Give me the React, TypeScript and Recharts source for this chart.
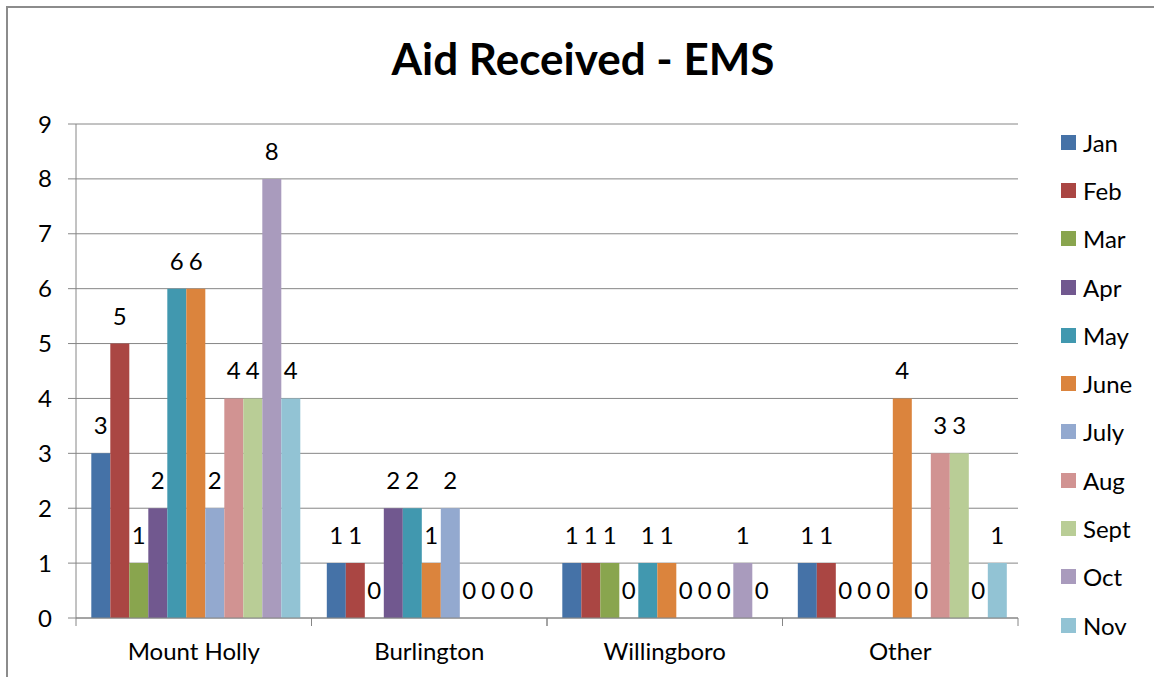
import React from "react";
import { Bar, BarChart, CartesianGrid, LabelList, Legend, XAxis, YAxis } from "recharts";

const towns = ["Mount Holly", "Burlington", "Willingboro", "Other"];
const months = ["Jan", "Feb", "Mar", "Apr", "May", "June", "July", "Aug", "Sept", "Oct", "Nov"];
const monthColors = [
  "#4572A7", "#AA4643", "#89A54E", "#71588F", "#4198AF", "#DB843D",
  "#93A9CF", "#D19392", "#B9CD96", "#A99BBD", "#92C3D4"
];

// one array per town, values Jan..Nov
const mountHolly = [3, 5, 1, 2, 6, 6, 2, 4, 4, 8, 4];
const burlington = [1, 1, 0, 2, 2, 1, 2, 0, 0, 0, 0];
const willingboro = [1, 1, 1, 0, 1, 1, 0, 0, 0, 1, 0];
const other = [1, 1, 0, 0, 0, 4, 0, 3, 3, 0, 1];
const yTicks = [0, 1, 2, 3, 4, 5, 6, 7, 8, 9];

const townValues = [mountHolly, burlington, willingboro, other];
const data = towns.map((town, i) => {
  const row: Record<string, string | number> = { town };
  months.forEach((m, j) => {
    row[m] = townValues[i][j];
  });
  return row;
});

const FONT = "Lato, 'Open Sans', sans-serif";
const GRID = "#868686";

function TownTick(props: any) {
  const { x, y, payload } = props;
  const half = payload.offset ?? 117.75;
  return (
    <g>
      <line x1={x - half} x2={x - half} y1={y - 8} y2={y} stroke={GRID} />
      <line x1={x + half} x2={x + half} y1={y - 8} y2={y} stroke={GRID} />
      <text x={x} y={y} dy={34} textAnchor="middle" fill="#000" fontSize={24} fontFamily={FONT}>
        {payload.value}
      </text>
    </g>
  );
}

// labels drawn by hand so that zero bars still get their "0"
function ValueLabel(props: any) {
  const { x, y, width, height, value } = props;
  const top = Math.min(y, y + height);
  return (
    <text x={x + width / 2} y={top - 19} textAnchor="middle" fill="#000" fontSize={24} fontFamily={FONT}>
      {value}
    </text>
  );
}

function MonthLegend() {
  return (
    <div style={{ fontFamily: FONT, fontSize: 24, color: "#000" }}>
      {months.map((m, i) => (
        <div key={m} style={{ height: 48.3, display: "flex", alignItems: "center" }}>
          <span style={{ width: 15, height: 15, background: monthColors[i], display: "inline-block", marginRight: 7 }} />
          <span>{m}</span>
        </div>
      ))}
    </div>
  );
}

export default function App() {
  return (
    <div style={{ position: "absolute", left: 0, top: 0, width: 1154, height: 677, overflow: "hidden", background: "#fff" }}>
      <div
        style={{
          position: "absolute",
          left: 6,
          top: 6,
          width: 1160,
          height: 690,
          border: "2px solid #8c8c8c",
          boxSizing: "border-box"
        }}
      />
      <div
        style={{
          position: "absolute",
          left: 0,
          width: 1166,
          top: 30,
          lineHeight: "56px",
          textAlign: "center",
          fontFamily: FONT,
          fontWeight: 700,
          fontSize: 44,
          color: "#000"
        }}
      >
        Aid Received - EMS
      </div>
      <div style={{ position: "absolute", left: 0, top: 0 }}>
        <BarChart
          width={1154}
          height={677}
          data={data}
          margin={{ top: 124, right: 46, left: 16, bottom: 19 }}
          barCategoryGap="6.5%"
          barGap={0}
        >
          <CartesianGrid vertical={false} stroke={GRID} />
          <XAxis
            dataKey="town"
            axisLine={{ stroke: GRID }}
            tickLine={false}
            height={40}
            interval={0}
            tick={<TownTick />}
          />
          <YAxis
            domain={[0, 9]}
            ticks={yTicks}
            interval={0}
            width={60}
            axisLine={{ stroke: GRID }}
            tickLine={{ stroke: GRID }}
            tickSize={8}
            tickMargin={16}
            tick={{ fill: "#000", fontSize: 24, fontFamily: FONT }}
          />
          <Legend
            layout="vertical"
            align="right"
            verticalAlign="top"
            content={<MonthLegend />}
            wrapperStyle={{ left: 1061, top: 118, width: 90 }}
          />
          {months.map((m, i) => (
            <Bar key={m} dataKey={m} fill={monthColors[i]} isAnimationActive={false} minPointSize={0.01}>
              <LabelList dataKey={m} content={<ValueLabel />} />
            </Bar>
          ))}
        </BarChart>
      </div>
    </div>
  );
}
